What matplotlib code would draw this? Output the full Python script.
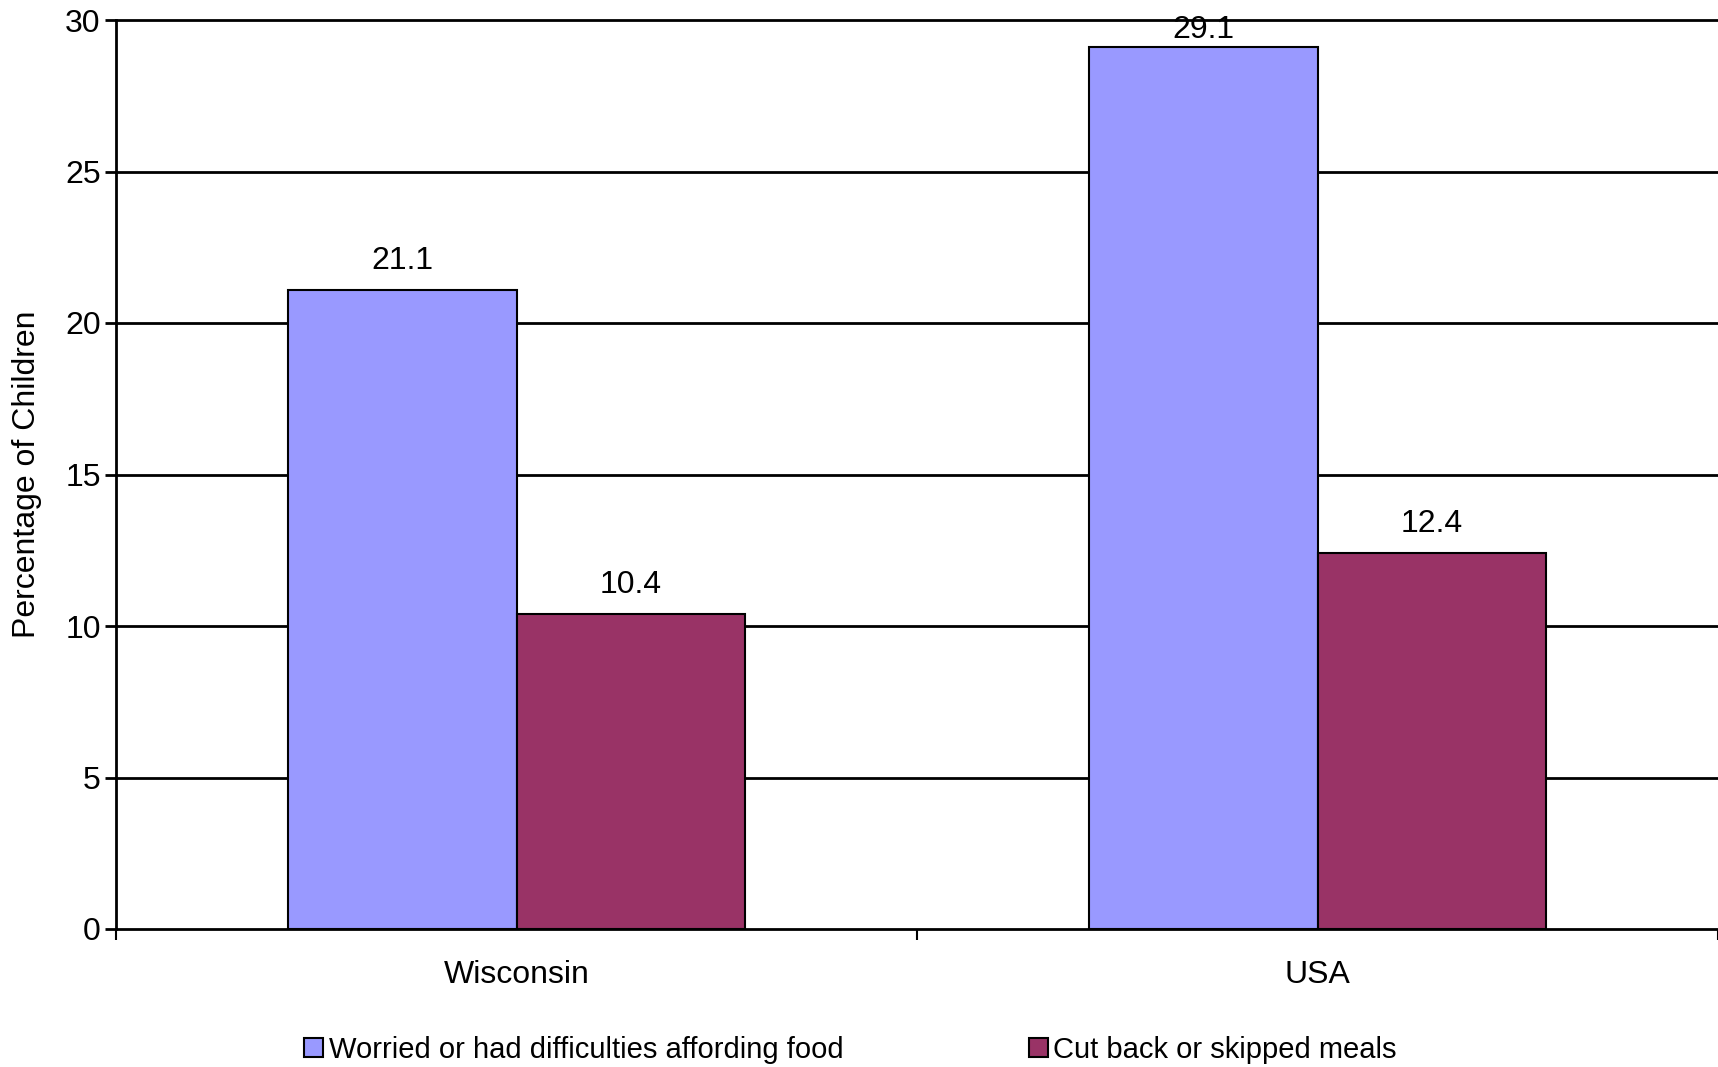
import numpy as np
import matplotlib
matplotlib.use('Agg')
from matplotlib import pyplot as plt
from matplotlib.patches import Patch

plt.rcParams['font.family'] = ['Liberation Sans', 'DejaVu Sans']

regions = ['Wisconsin', 'USA']
series_names = ['Worried or had difficulties affording food', 'Cut back or skipped meals']
worried = [21.1, 29.1]
cut_back = [10.4, 12.4]
colors = ['#9999FF', '#993366']
yticks = [0, 5, 10, 15, 20, 25, 30]

fs = 23
fig = plt.figure(figsize=(17.18, 10.67), dpi=100)
ax = fig.add_axes([116 / 1718, 1 - 929 / 1067, 1 - 116 / 1718, (929 - 20) / 1067])

x = np.arange(len(regions))
w = 1 / 3.5  # gap width 150%
for vals, off, col in [(worried, -w / 2, colors[0]), (cut_back, w / 2, colors[1])]:
    bars = ax.bar(x + off, vals, width=w, color=col, edgecolor='black', linewidth=1.5, zorder=3)
    for b, v in zip(bars, vals):
        # labels near the top of the plot get pushed down to stay inside
        dy = 15 if v < 28 else 7
        ax.annotate(f'{v:.1f}', (b.get_x() + b.get_width() / 2, v), xytext=(0, dy),
                    textcoords='offset points', ha='center', va='baseline', fontsize=fs, zorder=4)

ax.set_xlim(-0.5, len(regions) - 0.5)
ax.set_ylim(0, 30)
ax.set_yticks(yticks)
for y in yticks[1:]:
    ax.axhline(y, color='black', linewidth=2, zorder=1, clip_on=False)

# categories labelled at centres, tick marks at the boundaries
ax.set_xticks(x)
ax.set_xticklabels(regions, fontsize=fs)
ax.tick_params(axis='x', which='major', length=0, pad=22)
ax.set_xticks(np.arange(len(regions) + 1) - 0.5, minor=True)
ax.tick_params(axis='x', which='minor', length=8, width=1.5, direction='out')
ax.tick_params(axis='y', labelsize=fs, length=8, width=2, pad=3)

for s in ['top', 'right']:
    ax.spines[s].set_visible(False)
ax.spines['left'].set_linewidth(2)
ax.spines['bottom'].set_linewidth(2)

fig.text(27 / 1718, 1 - 474 / 1067, 'Percentage of Children', rotation=90,
         ha='center', va='center', fontsize=fs)

handles = [Patch(facecolor=c, edgecolor='black', linewidth=1.5) for c in colors]
fig.legend(handles, series_names, loc='center', bbox_to_anchor=(0.495, 1 - 1050 / 1067),
           ncol=2, frameon=False, fontsize=21, handlelength=0.65, handleheight=0.65,
           handletextpad=0.2, columnspacing=6.35, borderaxespad=0)

fig.savefig('out.png', dpi=100)
